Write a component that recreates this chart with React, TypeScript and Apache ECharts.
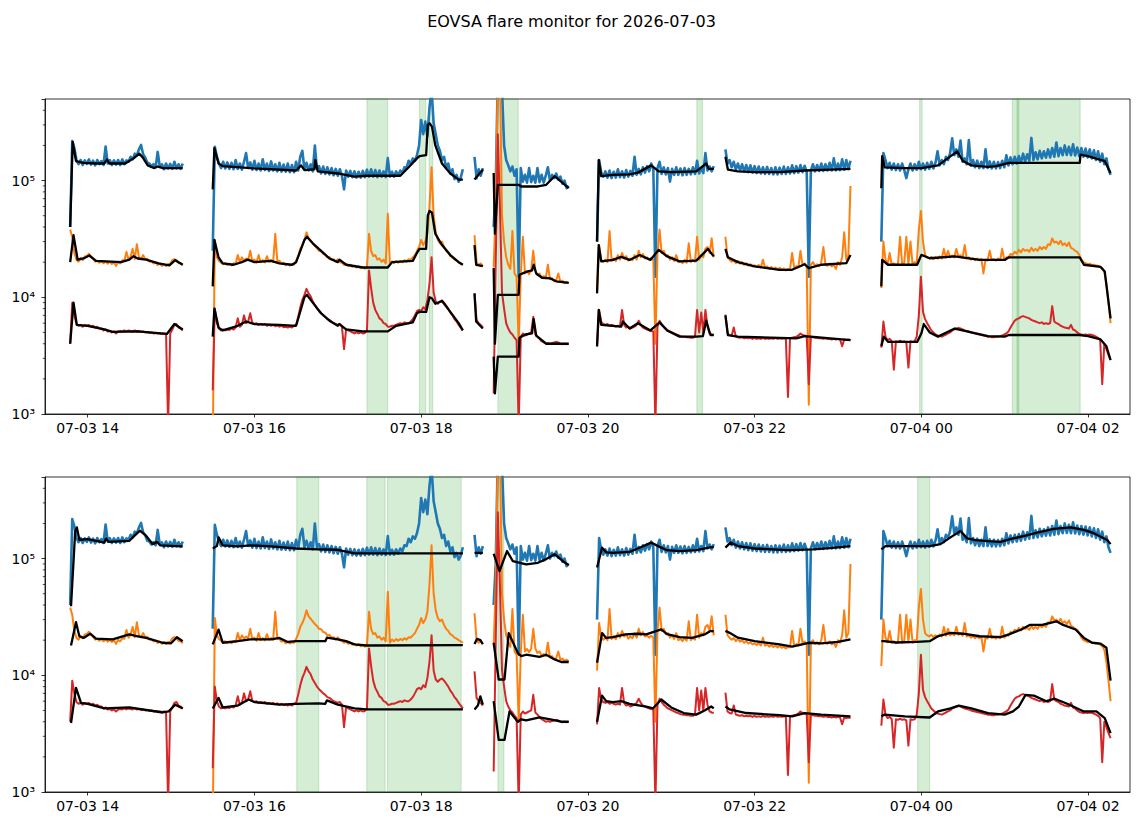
import React, { useEffect, useRef } from "react";
import * as echarts from "echarts";

// ---------- axes ----------
const X_MIN = 13.488;
const X_MAX = 26.503;
const Y_MIN = 1e3;
const Y_MAX = 5e5;
const X_TICKS = [14, 16, 18, 20, 22, 24, 26];
const Y_MINOR = [2e3, 3e3, 4e3, 5e3, 6e3, 7e3, 8e3, 9e3, 2e4, 3e4, 4e4, 5e4, 6e4, 7e4, 8e4, 9e4, 2e5, 3e5, 4e5];

// ---------- raw data (hours since 07-03 00:00) ----------
const SEG_START = [13.79, 15.5, 18.64, 18.87, 20.11, 21.65, 23.52];
const RAW_DT = 0.025; // sampling step (h)

const BLUE = [
  [40e3, 218e3, 190e3, 150e3, 138e3, 150e3, 136e3, 149e3, 139e3, 152e3, 137e3, 148e3, 135e3, 150e3, 138e3, 147e3, 136e3, 196e3, 140e3, 150e3, 136e3, 149e3, 137e3, 150e3, 136e3, 152e3, 138e3, 149e3, 145e3, 160e3, 152e3, 170e3, 165e3, 185e3, 202e3, 168e3, 158e3, 142e3, 140e3, 132e3, 138e3, 130e3, 176e3, 131e3, 138e3, 125e3, 140e3, 127e3, 139e3, 126e3, 145e3, 127e3, 138e3, 126e3, 140e3],
  [25e3, 195e3, 160e3, 140e3, 128e3, 145e3, 127e3, 143e3, 126e3, 142e3, 125e3, 150e3, 126e3, 140e3, 124e3, 145e3, 172e3, 128e3, 143e3, 124e3, 148e3, 123e3, 140e3, 122e3, 152e3, 123e3, 140e3, 121e3, 146e3, 122e3, 138e3, 120e3, 142e3, 119e3, 137e3, 119e3, 140e3, 118e3, 136e3, 118e3, 145e3, 122e3, 160e3, 180e3, 125e3, 142e3, 122e3, 138e3, 120e3, 200e3, 125e3, 133e3, 115e3, 132e3, 114e3, 130e3, 113e3, 128e3, 111e3, 126e3, 110e3, 125e3, 110e3, 84e3, 122e3, 108e3, 121e3, 107e3, 120e3, 106e3, 119e3, 106e3, 121e3, 107e3, 124e3, 108e3, 125e3, 108e3, 123e3, 107e3, 122e3, 108e3, 120e3, 107e3, 156e3, 108e3, 119e3, 108e3, 120e3, 110e3, 122e3, 116e3, 130e3, 128e3, 148e3, 138e3, 155e3, 148e3, 165e3, 200e3, 330e3, 250e3, 320e3, 240e3, 420e3, 600e3, 310e3, 250e3, 200e3, 180e3, 150e3, 160e3, 128e3, 140e3, 115e3, 125e3, 103e3, 112e3, 98e3, 106e3, 125e3],
  [160e3, 105e3, 125e3, 110e3, 128e3],
  [40e3, 90e3, 800e3, 900e3, 600e3, 200e3, 150e3, 135e3, 120e3, 132e3, 110e3, 125e3, 15e3, 128e3, 98e3, 112e3, 96e3, 128e3, 97e3, 110e3, 96e3, 128e3, 97e3, 112e3, 96e3, 110e3, 130e3, 100e3, 112e3, 105e3, 115e3, 102e3, 108e3, 94e3, 100e3, 86e3, 90e3],
  [30e3, 150e3, 118e3, 108e3, 120e3, 106e3, 122e3, 105e3, 119e3, 106e3, 125e3, 107e3, 120e3, 106e3, 123e3, 108e3, 121e3, 110e3, 160e3, 112e3, 126e3, 113e3, 130e3, 117e3, 133e3, 120e3, 140e3, 125e3, 15e3, 128e3, 145e3, 114e3, 130e3, 113e3, 128e3, 98e3, 126e3, 112e3, 130e3, 112e3, 127e3, 111e3, 128e3, 112e3, 126e3, 113e3, 130e3, 114e3, 148e3, 115e3, 128e3, 116e3, 172e3, 122e3, 132e3, 120e3, 133e3],
  [185e3, 140e3, 150e3, 130e3, 145e3, 124e3, 140e3, 122e3, 138e3, 120e3, 136e3, 118e3, 135e3, 117e3, 133e3, 116e3, 132e3, 115e3, 130e3, 114e3, 131e3, 114e3, 128e3, 113e3, 130e3, 113e3, 129e3, 114e3, 132e3, 114e3, 130e3, 115e3, 135e3, 116e3, 133e3, 117e3, 136e3, 118e3, 134e3, 119e3, 15e3, 122e3, 138e3, 120e3, 136e3, 121e3, 140e3, 121e3, 138e3, 122e3, 142e3, 122e3, 155e3, 122e3, 140e3, 123e3, 152e3, 124e3, 150e3, 125e3, 148e3],
  [30e3, 172e3, 150e3, 128e3, 142e3, 124e3, 140e3, 123e3, 138e3, 122e3, 140e3, 123e3, 105e3, 125e3, 140e3, 122e3, 138e3, 124e3, 145e3, 125e3, 140e3, 124e3, 142e3, 126e3, 145e3, 127e3, 143e3, 178e3, 135e3, 150e3, 138e3, 160e3, 150e3, 172e3, 230e3, 165e3, 185e3, 160e3, 220e3, 145e3, 155e3, 138e3, 222e3, 135e3, 150e3, 130e3, 148e3, 128e3, 145e3, 128e3, 185e3, 128e3, 146e3, 127e3, 145e3, 127e3, 144e3, 128e3, 148e3, 130e3, 165e3, 135e3, 158e3, 138e3, 160e3, 140e3, 162e3, 142e3, 170e3, 145e3, 168e3, 148e3, 232e3, 150e3, 175e3, 152e3, 180e3, 155e3, 178e3, 157e3, 185e3, 158e3, 190e3, 160e3, 212e3, 162e3, 190e3, 165e3, 200e3, 166e3, 195e3, 165e3, 205e3, 164e3, 192e3, 162e3, 190e3, 160e3, 188e3, 158e3, 185e3, 155e3, 182e3, 150e3, 178e3, 145e3, 170e3, 138e3, 155e3, 125e3, 112e3],
];

const ORANGE = [
  [38e3, 33e3, 24e3, 21e3, 20.2e3, 21.8e3, 20.8e3, 22.4e3, 22.6e3, 23.6e3, 22.2e3, 21.4e3, 20.2e3, 20.6e3, 19.8e3, 20.4e3, 19.6e3, 20.3e3, 19.4e3, 20.2e3, 19.3e3, 20e3, 18.6e3, 20.2e3, 19.5e3, 20.8e3, 20.6e3, 24.5e3, 21e3, 22.5e3, 26e3, 21.2e3, 28.5e3, 22e3, 21.2e3, 23e3, 21.2e3, 21.4e3, 20.2e3, 20.4e3, 19.5e3, 19.9e3, 18.9e3, 19.4e3, 18.6e3, 19.2e3, 18.5e3, 19.3e3, 19.3e3, 20.8e3, 21.2e3, 20.8e3, 19.7e3, 19.6e3, 18.8e3],
  [0.5e3, 31e3, 22e3, 20.5e3, 19.8e3, 19.2e3, 19.6e3, 18.9e3, 19.4e3, 18.8e3, 19.6e3, 19.2e3, 23e3, 20e3, 22e3, 20.6e3, 21.5e3, 20.8e3, 25e3, 20.4e3, 21e3, 19.8e3, 23e3, 20e3, 20.8e3, 19.9e3, 22.5e3, 20.2e3, 20.9e3, 20.1e3, 35e3, 20.4e3, 20.6e3, 19.4e3, 19.8e3, 18.8e3, 19.3e3, 18.7e3, 19.2e3, 19e3, 20.5e3, 22.5e3, 26e3, 28e3, 31e3, 36e3, 32e3, 30.5e3, 29e3, 27.5e3, 26.5e3, 25e3, 24.8e3, 23.5e3, 23.2e3, 22e3, 22.2e3, 21e3, 21.2e3, 20.2e3, 21.2e3, 20e3, 19.8e3, 19e3, 19.4e3, 18.6e3, 19e3, 18.3e3, 18.6e3, 18e3, 18.4e3, 17.7e3, 18.1e3, 17.6e3, 18e3, 35e3, 25e3, 22.5e3, 23e3, 21e3, 21.5e3, 20.2e3, 21e3, 19.5e3, 52e3, 19e3, 20.2e3, 19.6e3, 20.4e3, 19.8e3, 20.5e3, 20e3, 20.8e3, 20.2e3, 21.2e3, 21e3, 22e3, 23e3, 25e3, 27e3, 31e3, 28e3, 30e3, 35e3, 60e3, 130e3, 50e3, 36e3, 31e3, 29e3, 30e3, 27e3, 25e3, 24e3, 22.5e3, 22e3, 21e3, 20.6e3, 20e3, 19.5e3, 19e3],
  [34e3, 20e3, 19e3, 19.5e3, 18.5e3],
  [18e3, 60e3, 800e3, 900e3, 50e3, 30e3, 22e3, 19e3, 17.5e3, 37e3, 16e3, 15e3, 4e3, 15.5e3, 33e3, 16e3, 16.8e3, 15.8e3, 17e3, 25e3, 17e3, 15.5e3, 16e3, 14.8e3, 15.2e3, 14.6e3, 19e3, 14.3e3, 14.6e3, 13.7e3, 14e3, 16e3, 13.6e3, 13.9e3, 13.2e3, 13.6e3, 13.2e3],
  [11e3, 28e3, 21e3, 20.2e3, 21e3, 20e3, 37e3, 20.5e3, 21.5e3, 20.4e3, 23e3, 21e3, 24e3, 21.5e3, 22.5e3, 20.6e3, 21.5e3, 20.8e3, 23e3, 21e3, 25e3, 22e3, 23.5e3, 21.5e3, 22e3, 21e3, 21.8e3, 21e3, 4e3, 24e3, 38e3, 24e3, 25e3, 22.5e3, 23e3, 21e3, 22e3, 20.5e3, 23e3, 20e3, 20.5e3, 19.6e3, 21e3, 19.8e3, 29e3, 20e3, 21e3, 20.2e3, 33e3, 21e3, 23e3, 22e3, 26e3, 27e3, 24e3, 32e3, 22e3],
  [33e3, 22e3, 21e3, 20.2e3, 20.8e3, 19.6e3, 20.5e3, 19.4e3, 20e3, 19e3, 19.6e3, 18.7e3, 19.2e3, 18.4e3, 18.8e3, 18.2e3, 18.9e3, 18e3, 21e3, 17.9e3, 18.4e3, 17.6e3, 18.2e3, 17.5e3, 18e3, 17.3e3, 17.9e3, 17.2e3, 17.6e3, 17e3, 17.5e3, 17.4e3, 24e3, 17.8e3, 18.5e3, 18e3, 25e3, 18.8e3, 19.5e3, 18.5e3, 1.2e3, 19e3, 20e3, 18.6e3, 19.2e3, 18.4e3, 20e3, 27e3, 19e3, 18.6e3, 19.5e3, 18.4e3, 19e3, 17.5e3, 20e3, 19e3, 22e3, 36e3, 21e3, 23e3, 90e3],
  [12e3, 30e3, 21e3, 19.2e3, 24e3, 19e3, 19.6e3, 18.8e3, 19.4e3, 33e3, 19e3, 19.8e3, 33e3, 19.2e3, 30e3, 19e3, 20e3, 19.4e3, 38e3, 55e3, 30e3, 23e3, 22e3, 21.5e3, 22.2e3, 21.2e3, 22e3, 21.4e3, 22.4e3, 21.5e3, 26e3, 21.8e3, 25e3, 22e3, 22.8e3, 22e3, 26e3, 22.2e3, 23e3, 21.8e3, 28e3, 21.5e3, 22e3, 21e3, 21.6e3, 20.8e3, 21.5e3, 20.8e3, 21.4e3, 16e3, 21e3, 20.6e3, 25e3, 20.8e3, 21.2e3, 20.6e3, 21.5e3, 20.8e3, 26e3, 21e3, 22e3, 21.8e3, 23.5e3, 23e3, 24.5e3, 23.8e3, 25.5e3, 24.2e3, 26e3, 25e3, 25.5e3, 24.5e3, 26.5e3, 25e3, 26e3, 25e3, 27e3, 25.8e3, 27e3, 26e3, 28.5e3, 28e3, 32e3, 29.5e3, 30e3, 28.5e3, 30.5e3, 28e3, 29e3, 27.5e3, 29.5e3, 26.5e3, 26e3, 25e3, 24.5e3, 23e3, 21e3, 20e3, 19.6e3, 19.2e3, 19.4e3, 18.9e3, 19e3, 18.7e3, 18.6e3, 18.3e3, 17.8e3, 16.5e3, 13e3, 9e3, 6e3],
];

const RED = [
  [4.0e3, 9.0e3, 7.0e3, 5.9e3, 5.7e3, 5.8e3, 5.6e3, 5.8e3, 5.7e3, 5.8e3, 5.6e3, 5.7e3, 5.5e3, 5.6e3, 5.4e3, 5.4e3, 5.2e3, 5.3e3, 5.1e3, 5.15e3, 5.0e3, 5.1e3, 4.9e3, 5.1e3, 5.15e3, 5.1e3, 5.2e3, 5.1e3, 5.2e3, 5.15e3, 5.1e3, 5.2e3, 5.1e3, 5.15e3, 5.05e3, 5.1e3, 5.0e3, 5.05e3, 4.95e3, 5.0e3, 4.9e3, 4.95e3, 4.9e3, 4.9e3, 4.85e3, 4.9e3, 4.85e3, 0.8e3, 4.9e3, 5.3e3, 5.8e3, 5.9e3, 5.5e3, 5.4e3, 5.2e3],
  [1.6e3, 8.0e3, 6.0e3, 5.4e3, 5.2e3, 5.3e3, 5.2e3, 5.3e3, 5.25e3, 5.4e3, 5.3e3, 5.5e3, 6.6e3, 5.6e3, 5.8e3, 7.0e3, 6.0e3, 6.2e3, 7.3e3, 6.0e3, 5.9e3, 6.0e3, 5.8e3, 5.9e3, 5.8e3, 5.9e3, 5.7e3, 5.8e3, 5.7e3, 5.8e3, 5.65e3, 5.75e3, 5.6e3, 5.7e3, 5.55e3, 5.6e3, 5.5e3, 5.6e3, 5.5e3, 5.7e3, 5.8e3, 6.8e3, 8.2e3, 9.5e3, 10.5e3, 11.8e3, 10.8e3, 10.2e3, 9.2e3, 8.6e3, 8.0e3, 7.6e3, 7.3e3, 7.0e3, 6.8e3, 6.5e3, 6.4e3, 6.2e3, 6.0e3, 5.9e3, 5.8e3, 5.9e3, 5.6e3, 3.6e3, 5.3e3, 5.2e3, 5.1e3, 5.0e3, 4.9e3, 5.0e3, 4.9e3, 5.0e3, 4.9e3, 4.95e3, 5.2e3, 17e3, 12e3, 9.0e3, 7.8e3, 7.2e3, 6.6e3, 6.4e3, 6.0e3, 5.9e3, 5.6e3, 5.6e3, 5.7e3, 5.7e3, 5.8e3, 5.9e3, 6.0e3, 5.9e3, 6.1e3, 6.0e3, 6.0e3, 6.2e3, 6.5e3, 7.0e3, 7.6e3, 7.8e3, 7.6e3, 8.2e3, 7.9e3, 9.5e3, 13e3, 22e3, 11e3, 9.2e3, 8.8e3, 9.2e3, 9.4e3, 9.0e3, 8.5e3, 8.0e3, 7.4e3, 7.0e3, 6.5e3, 6.2e3, 5.8e3, 5.5e3, 5.2e3],
  [10.8e3, 6.4e3, 6.0e3, 5.8e3, 5.5e3],
  [1.5e3, 20e3, 250e3, 60e3, 11e3, 8.0e3, 6.0e3, 5.4e3, 5.0e3, 4.8e3, 4.5e3, 4.3e3, 0.8e3, 4.6e3, 4.9e3, 4.7e3, 4.8e3, 4.9e3, 5.0e3, 6.8e3, 4.8e3, 4.6e3, 4.4e3, 4.2e3, 4.1e3, 4.0e3, 4.05e3, 4.0e3, 4.05e3, 4.1e3, 4.15e3, 4.1e3, 4.0e3, 3.95e3, 4.0e3, 3.95e3, 4.0e3],
  [3.8e3, 7.8e3, 6.2e3, 5.9e3, 5.8e3, 5.9e3, 5.7e3, 5.8e3, 5.7e3, 5.6e3, 5.7e3, 5.6e3, 7.8e3, 5.8e3, 5.5e3, 5.6e3, 5.4e3, 5.5e3, 5.6e3, 5.8e3, 6.3e3, 5.8e3, 5.5e3, 5.4e3, 5.3e3, 5.2e3, 5.15e3, 5.1e3, 0.8e3, 5.6e3, 6.3e3, 5.9e3, 5.6e3, 5.4e3, 5.2e3, 5.1e3, 5.0e3, 4.9e3, 4.8e3, 4.75e3, 4.65e3, 4.6e3, 4.6e3, 4.55e3, 4.55e3, 4.5e3, 4.5e3, 4.6e3, 7.8e3, 5.0e3, 7.4e3, 5.0e3, 7.8e3, 5.6e3, 4.9e3, 4.8e3, 4.75e3],
  [7.1e3, 4.9e3, 4.75e3, 4.7e3, 5.5e3, 4.6e3, 4.55e3, 4.5e3, 4.55e3, 4.45e3, 4.5e3, 4.45e3, 4.5e3, 4.4e3, 4.5e3, 4.4e3, 4.45e3, 4.4e3, 4.5e3, 4.4e3, 4.45e3, 4.4e3, 4.45e3, 4.4e3, 4.5e3, 4.4e3, 4.45e3, 4.4e3, 4.45e3, 4.4e3, 1.4e3, 4.45e3, 4.5e3, 4.55e3, 4.6e3, 4.7e3, 4.9e3, 4.75e3, 4.7e3, 4.65e3, 1.8e3, 4.6e3, 4.55e3, 4.5e3, 4.5e3, 4.45e3, 4.45e3, 4.4e3, 4.45e3, 4.4e3, 4.4e3, 4.35e3, 4.4e3, 4.35e3, 4.4e3, 4.35e3, 3.8e3, 4.35e3, 4.3e3, 4.35e3, 4.3e3],
  [3.7e3, 6.2e3, 4.6e3, 4.3e3, 4.4e3, 4.2e3, 2.4e3, 4.2e3, 4.15e3, 4.25e3, 4.15e3, 4.2e3, 4.1e3, 2.5e3, 4.2e3, 4.15e3, 4.2e3, 4.6e3, 7.0e3, 15e3, 7.5e3, 6.5e3, 6.0e3, 5.6e3, 5.2e3, 5.0e3, 4.8e3, 4.7e3, 4.65e3, 4.6e3, 4.7e3, 4.8e3, 4.9e3, 5.0e3, 5.2e3, 5.3e3, 5.4e3, 5.45e3, 5.4e3, 5.3e3, 5.2e3, 5.15e3, 5.1e3, 5.0e3, 4.95e3, 4.9e3, 4.85e3, 4.8e3, 4.75e3, 4.7e3, 4.65e3, 4.6e3, 4.6e3, 4.55e3, 4.55e3, 4.6e3, 4.6e3, 4.65e3, 4.7e3, 4.8e3, 4.9e3, 5.1e3, 5.5e3, 5.9e3, 6.3e3, 6.5e3, 6.6e3, 6.8e3, 6.9e3, 6.8e3, 6.7e3, 6.6e3, 6.4e3, 6.3e3, 6.2e3, 6.1e3, 6.0e3, 6.1e3, 5.9e3, 6.0e3, 5.9e3, 6.0e3, 8.4e3, 6.2e3, 6.0e3, 5.9e3, 5.7e3, 5.6e3, 5.5e3, 5.45e3, 5.4e3, 5.8e3, 5.3e3, 5.2e3, 5.0e3, 4.85e3, 4.8e3, 4.75e3, 4.8e3, 4.75e3, 4.8e3, 4.75e3, 4.7e3, 4.6e3, 4.5e3, 4.3e3, 1.8e3, 4.0e3, 3.6e3, 3.2e3, 2.9e3],
];

// ---------- background (black) curves, [hour, value] per segment ----------
const TOP_BG_BLUE = [
  [[13.79, 40e3], [13.82, 215e3], [13.86, 147e3], [13.95, 142e3], [14.1, 140e3], [14.2, 140e3], [14.23, 152e3], [14.26, 140e3], [14.45, 140e3], [14.55, 155e3], [14.62, 170e3], [14.66, 158e3], [14.72, 135e3], [14.8, 128e3], [14.84, 132e3], [14.9, 128e3], [15.14, 128e3]],
  [[15.5, 84e3], [15.52, 190e3], [15.57, 140e3], [15.62, 133e3], [16.0, 127e3], [16.5, 122e3], [16.56, 135e3], [16.6, 123e3], [16.72, 125e3], [16.73, 150e3], [16.76, 120e3], [17.0, 115e3], [17.2, 108e3], [17.35, 110e3], [17.6, 110e3], [17.75, 110e3], [17.85, 130e3], [17.95, 155e3], [17.98, 162e3], [18.06, 165e3], [18.08, 300e3], [18.1, 310e3], [18.13, 290e3], [18.17, 200e3], [18.25, 140e3], [18.35, 115e3], [18.45, 102e3], [18.5, 102e3]],
  [[18.64, 102e3], [18.7, 115e3], [18.74, 124e3]],
  [[18.87, 116e3], [18.885, 35e3], [18.92, 92e3], [19.17, 92e3], [19.2, 89e3], [19.4, 89e3], [19.5, 92e3], [19.6, 109e3], [19.7, 95e3], [19.77, 86e3]],
  [[20.11, 30e3], [20.13, 150e3], [20.16, 109e3], [20.3, 112e3], [20.5, 113e3], [20.6, 117e3], [20.76, 135e3], [20.85, 120e3], [21.0, 118e3], [21.3, 120e3], [21.42, 140e3], [21.45, 126e3], [21.51, 126e3]],
  [[21.65, 160e3], [21.68, 124e3], [21.8, 120e3], [22.0, 118e3], [22.3, 118e3], [22.6, 122e3], [22.9, 124e3], [23.15, 126e3]],
  [[23.52, 86e3], [23.53, 162e3], [23.56, 130e3], [23.8, 128e3], [24.0, 128e3], [24.2, 135e3], [24.3, 152e3], [24.43, 178e3], [24.5, 147e3], [24.6, 135e3], [24.8, 131e3], [24.9, 133e3], [25.05, 142e3], [25.9, 142e3], [25.91, 167e3], [26.0, 162e3], [26.1, 154e3], [26.2, 147e3], [26.27, 116e3]],
];

const TOP_BG_ORANGE = [
  [[13.79, 20e3], [13.83, 34e3], [13.88, 21e3], [13.95, 21.5e3], [14.02, 22.8e3], [14.1, 20.5e3], [14.4, 20e3], [14.5, 21e3], [14.55, 22.5e3], [14.6, 21.5e3], [14.7, 21e3], [14.85, 19.5e3], [14.98, 18.8e3], [15.05, 20.8e3], [15.14, 19e3]],
  [[15.5, 12.4e3], [15.52, 31e3], [15.57, 22e3], [15.62, 19.5e3], [15.75, 19e3], [15.85, 20e3], [15.92, 21e3], [16.0, 20e3], [16.2, 20.5e3], [16.3, 19.5e3], [16.45, 19e3], [16.5, 20e3], [16.56, 26e3], [16.6, 31e3], [16.63, 33e3], [16.7, 29e3], [16.8, 25e3], [16.9, 21.5e3], [17.0, 20e3], [17.02, 21e3], [17.1, 19e3], [17.3, 18e3], [17.6, 18e3], [17.65, 20e3], [17.9, 20.5e3], [17.95, 24e3], [17.98, 26e3], [18.06, 26e3], [18.08, 50e3], [18.1, 55e3], [18.13, 53e3], [18.17, 35e3], [18.25, 28e3], [18.35, 23e3], [18.45, 20e3], [18.5, 19e3]],
  [[18.64, 28e3], [18.66, 19e3], [18.74, 18.5e3]],
  [[18.87, 17.8e3], [18.885, 4e3], [18.92, 10.5e3], [19.17, 10.5e3], [19.18, 15.6e3], [19.26, 16.5e3], [19.33, 17e3], [19.35, 19e3], [19.38, 16e3], [19.45, 14.7e3], [19.55, 14.5e3], [19.62, 13.7e3], [19.77, 13.3e3]],
  [[20.11, 10.8e3], [20.13, 28e3], [20.16, 20.3e3], [20.3, 20.9e3], [20.4, 22.2e3], [20.5, 20.9e3], [20.62, 23e3], [20.75, 20.9e3], [20.85, 25.5e3], [20.95, 22.4e3], [21.1, 20.3e3], [21.3, 20.6e3], [21.44, 26e3], [21.51, 22.4e3]],
  [[21.65, 26e3], [21.68, 22e3], [21.8, 20e3], [22.0, 18.4e3], [22.3, 17.2e3], [22.45, 17.2e3], [22.6, 19.2e3], [22.65, 17.8e3], [22.8, 19e3], [23.1, 19.6e3], [23.15, 23e3]],
  [[23.52, 12.4e3], [23.53, 20.9e3], [23.6, 19e3], [23.95, 19e3], [24.0, 23.1e3], [24.1, 21.6e3], [24.4, 22.4e3], [24.7, 20.9e3], [25.0, 20.9e3], [25.05, 22e3], [25.9, 22e3], [25.95, 19e3], [26.15, 18.2e3], [26.2, 16.6e3], [26.27, 6.6e3]],
];

const TOP_BG_RED = [
  [[13.79, 4.0e3], [13.83, 9.0e3], [13.87, 5.8e3], [14.0, 5.7e3], [14.2, 5.3e3], [14.3, 5.05e3], [14.6, 5.1e3], [14.95, 4.85e3], [15.04, 5.9e3], [15.14, 5.3e3]],
  [[15.5, 4.6e3], [15.52, 8.0e3], [15.57, 5.5e3], [15.62, 5.2e3], [15.8, 5.7e3], [15.9, 6.2e3], [16.0, 5.9e3], [16.3, 5.8e3], [16.5, 5.7e3], [16.6, 10e3], [16.63, 10.5e3], [16.7, 9.0e3], [16.8, 7.3e3], [16.9, 6.3e3], [17.0, 5.7e3], [17.02, 5.9e3], [17.1, 5.3e3], [17.3, 5.1e3], [17.6, 5.1e3], [17.7, 5.7e3], [17.9, 6.1e3], [17.95, 7.3e3], [17.98, 7.5e3], [18.06, 7.5e3], [18.1, 10e3], [18.13, 9.8e3], [18.17, 8.8e3], [18.25, 9.3e3], [18.35, 7.5e3], [18.45, 6.0e3], [18.5, 5.2e3]],
  [[18.64, 10.8e3], [18.66, 6.2e3], [18.74, 5.4e3]],
  [[18.87, 3.1e3], [18.885, 1.5e3], [18.92, 3.1e3], [19.17, 3.1e3], [19.18, 4.5e3], [19.25, 4.8e3], [19.33, 4.9e3], [19.35, 6.5e3], [19.38, 4.7e3], [19.5, 4.0e3], [19.77, 4.0e3]],
  [[20.11, 3.8e3], [20.13, 7.8e3], [20.16, 5.8e3], [20.4, 5.6e3], [20.42, 6.2e3], [20.5, 5.4e3], [20.6, 6.0e3], [20.75, 5.2e3], [20.86, 6.1e3], [20.95, 5.2e3], [21.1, 4.6e3], [21.3, 4.6e3], [21.38, 4.65e3], [21.42, 6.3e3], [21.47, 4.75e3], [21.51, 4.75e3]],
  [[21.65, 7.0e3], [21.68, 4.75e3], [21.8, 4.6e3], [22.5, 4.45e3], [22.6, 4.65e3], [23.15, 4.3e3]],
  [[23.52, 3.8e3], [23.55, 4.6e3], [23.6, 4.15e3], [23.95, 4.15e3], [24.0, 4.9e3], [24.03, 5.9e3], [24.1, 5.0e3], [24.2, 4.6e3], [24.4, 5.4e3], [24.6, 5.0e3], [24.8, 4.65e3], [25.0, 4.6e3], [25.05, 4.75e3], [25.9, 4.75e3], [26.0, 4.65e3], [26.15, 4.35e3], [26.22, 3.8e3], [26.27, 2.9e3]],
];

const BOT_BG_BLUE = [
  [[13.8, 39e3], [13.85, 170e3], [13.87, 185e3], [13.9, 145e3], [14.0, 147e3], [14.2, 137e3], [14.22, 149e3], [14.25, 139e3], [14.5, 142e3], [14.6, 167e3], [14.63, 173e3], [14.7, 157e3], [14.78, 133e3], [14.83, 139e3], [14.87, 130e3], [15.14, 127e3]],
  [[15.5, 122e3], [15.55, 128e3], [15.57, 152e3], [15.62, 130e3], [15.8, 127e3], [15.95, 130e3], [16.2, 127e3], [16.5, 122e3], [16.77, 120e3], [17.0, 119e3], [17.2, 111e3], [17.35, 111e3], [18.5, 111e3]],
  [[18.64, 112e3], [18.74, 112e3]],
  [[18.87, 110e3], [18.94, 78e3], [19.03, 116e3], [19.1, 95e3], [19.26, 89e3], [19.4, 92e3], [19.5, 99e3], [19.6, 109e3], [19.7, 95e3], [19.77, 88e3]],
  [[20.11, 84e3], [20.17, 124e3], [20.22, 113e3], [20.3, 112e3], [20.5, 114e3], [20.6, 122e3], [20.76, 137e3], [20.86, 126e3], [20.95, 118e3], [21.1, 116e3], [21.3, 118e3], [21.45, 124e3], [21.51, 126e3]],
  [[21.65, 124e3], [21.71, 137e3], [21.8, 128e3], [22.0, 122e3], [22.4, 118e3], [22.7, 120e3], [22.9, 123e3], [23.15, 128e3]],
  [[23.52, 120e3], [23.57, 128e3], [23.9, 128e3], [24.1, 128e3], [24.23, 133e3], [24.35, 152e3], [24.47, 172e3], [24.55, 149e3], [24.65, 144e3], [24.8, 141e3], [24.95, 139e3], [25.1, 149e3], [25.25, 157e3], [25.4, 168e3], [25.59, 180e3], [25.79, 185e3], [25.95, 176e3], [26.05, 167e3], [26.15, 154e3], [26.23, 144e3], [26.27, 133e3]],
];

const BOT_BG_ORANGE = [
  [[13.8, 18e3], [13.86, 28.5e3], [13.9, 21.6e3], [13.95, 20.9e3], [14.03, 22.7e3], [14.1, 20.6e3], [14.3, 20.3e3], [14.5, 22.4e3], [14.6, 21.6e3], [14.7, 20.9e3], [14.9, 19e3], [15.0, 18.8e3], [15.07, 21.2e3], [15.14, 19.6e3]],
  [[15.5, 18.4e3], [15.57, 24.6e3], [15.62, 19e3], [15.8, 19.6e3], [15.95, 20.3e3], [16.2, 20.3e3], [16.3, 20.9e3], [16.4, 19.3e3], [16.5, 19.6e3], [16.77, 19.6e3], [16.85, 19.6e3], [16.87, 21e3], [17.0, 20.3e3], [17.1, 19.6e3], [17.2, 18.4e3], [17.35, 18e3], [18.5, 18.1e3]],
  [[18.64, 18.5e3], [18.67, 20.5e3], [18.71, 20e3], [18.74, 18.5e3]],
  [[18.87, 19e3], [18.93, 9.2e3], [19.0, 9.2e3], [19.05, 23e3], [19.16, 15.5e3], [19.2, 14.6e3], [19.26, 15e3], [19.42, 14.4e3], [19.5, 15e3], [19.58, 13.9e3], [19.68, 13e3], [19.77, 13e3]],
  [[20.11, 12.8e3], [20.17, 23e3], [20.22, 20.9e3], [20.3, 21.2e3], [20.45, 22.4e3], [20.6, 22.7e3], [20.7, 22.4e3], [20.88, 24.7e3], [20.95, 22.5e3], [21.1, 21.2e3], [21.25, 20.9e3], [21.4, 22.4e3], [21.47, 24e3], [21.51, 23.8e3]],
  [[21.65, 24e3], [21.7, 23.1e3], [21.8, 21e3], [22.0, 19.6e3], [22.3, 18.4e3], [22.45, 17.6e3], [22.65, 19e3], [22.8, 18.8e3], [23.0, 19.3e3], [23.15, 20.3e3]],
  [[23.52, 19.6e3], [23.55, 19.6e3], [23.7, 19.1e3], [23.95, 19.3e3], [24.1, 19.6e3], [24.2, 21.6e3], [24.35, 23.1e3], [24.5, 22.7e3], [24.7, 21.6e3], [24.95, 21.2e3], [25.05, 22.4e3], [25.2, 24.7e3], [25.3, 27e3], [25.45, 27e3], [25.62, 29e3], [25.7, 27e3], [25.85, 24.7e3], [25.95, 20.9e3], [26.05, 19e3], [26.15, 18.7e3], [26.22, 17.2e3], [26.27, 9.0e3]],
];

const BOT_BG_RED = [
  [[13.8, 3.9e3], [13.86, 7.8e3], [13.92, 5.8e3], [14.0, 5.7e3], [14.2, 5.2e3], [14.5, 5.3e3], [14.9, 4.8e3], [14.97, 4.9e3], [15.05, 5.6e3], [15.14, 5.2e3]],
  [[15.5, 5.2e3], [15.57, 6.4e3], [15.62, 5.3e3], [15.8, 5.5e3], [15.93, 6.2e3], [16.0, 5.9e3], [16.3, 5.6e3], [16.5, 5.7e3], [16.77, 5.75e3], [16.85, 5.7e3], [16.87, 6.1e3], [17.0, 5.6e3], [17.2, 5.2e3], [17.35, 5.1e3], [18.5, 5.1e3]],
  [[18.64, 5.1e3], [18.68, 5.5e3], [18.71, 6.6e3], [18.74, 5.6e3]],
  [[18.87, 6.0e3], [18.93, 2.8e3], [19.0, 2.8e3], [19.06, 4.9e3], [19.16, 4.0e3], [19.2, 4.2e3], [19.26, 4.1e3], [19.42, 4.35e3], [19.55, 4.2e3], [19.68, 4.0e3], [19.77, 4.0e3]],
  [[20.11, 4.0e3], [20.17, 6.7e3], [20.22, 6.0e3], [20.3, 5.9e3], [20.4, 6.0e3], [20.5, 5.7e3], [20.7, 5.4e3], [20.78, 5.2e3], [20.88, 6.2e3], [21.0, 5.3e3], [21.15, 4.75e3], [21.3, 4.6e3], [21.4, 5.0e3], [21.48, 5.4e3], [21.51, 5.2e3]],
  [[21.65, 5.4e3], [21.7, 5.1e3], [21.9, 4.75e3], [22.3, 4.55e3], [22.45, 4.45e3], [22.6, 4.75e3], [22.8, 4.6e3], [23.15, 4.45e3]],
  [[23.52, 4.45e3], [23.56, 4.6e3], [23.8, 4.45e3], [24.1, 4.35e3], [24.2, 4.9e3], [24.35, 5.2e3], [24.45, 5.5e3], [24.6, 5.2e3], [24.8, 4.75e3], [25.0, 4.6e3], [25.1, 4.9e3], [25.17, 5.4e3], [25.25, 6.8e3], [25.35, 6.7e3], [25.5, 6.0e3], [25.6, 6.3e3], [25.75, 5.7e3], [25.95, 4.9e3], [26.1, 4.9e3], [26.2, 4.3e3], [26.27, 3.2e3]],
];

// ---------- shaded flare intervals [start, end] hours ----------
const TOP_SPANS = [[17.35, 17.6], [17.98, 18.056], [18.096, 18.14], [18.921, 19.165], [21.307, 21.374], [23.98, 24.01], [25.09, 25.17], [25.147, 25.905]];
const BOT_SPANS = [[16.508, 16.772], [17.348, 17.568], [17.596, 18.48], [18.921, 18.993], [23.956, 24.1]];

const C_BLUE = "#1f77b4";
const C_ORANGE = "#ff7f0e";
const C_RED = "#d62728";
const FONT = "DejaVu Sans";
const SUP: Record<number, string> = { 3: "\u00b3", 4: "\u2074", 5: "\u2075" };

function rawData(segs: number[][], dt: number) {
  const out: any[] = [];
  segs.forEach((vals, s) => {
    const t0 = SEG_START[s];
    vals.forEach((v, i) => out.push([+(t0 + i * dt).toFixed(4), v]));
    out.push([t0 + vals.length * dt, null]);
  });
  return out;
}

function pairData(segs: number[][][]) {
  const out: any[] = [];
  segs.forEach((seg) => {
    seg.forEach((p) => out.push(p));
    out.push([seg[seg.length - 1][0] + 0.01, null]);
  });
  return out;
}

function lineSeries(idx: number, data: any[], color: string, width: number, z: number) {
  return {
    type: "line",
    xAxisIndex: idx,
    yAxisIndex: idx,
    data,
    showSymbol: false,
    symbol: "none",
    connectNulls: false,
    lineStyle: { color, width, join: "round" },
    itemStyle: { color },
    z,
    silent: true,
    animation: false,
  };
}

function spanSeries(idx: number, spans: number[][]) {
  return {
    type: "custom",
    xAxisIndex: idx,
    yAxisIndex: idx,
    data: spans,
    silent: true,
    z: 1,
    renderItem: (_p: any, api: any) => {
      const a = api.coord([api.value(0), Y_MAX]);
      const b = api.coord([api.value(1), Y_MIN]);
      return {
        type: "rect",
        shape: { x: a[0], y: a[1], width: b[0] - a[0], height: b[1] - a[1] },
        style: { fill: "rgba(44,160,44,0.2)", stroke: "rgba(44,160,44,0.22)", lineWidth: 1 },
      };
    },
  };
}

function minorTickSeries(idx: number) {
  return {
    type: "custom",
    xAxisIndex: idx,
    yAxisIndex: idx,
    data: Y_MINOR.map((v) => [X_MIN, v]),
    silent: true,
    clip: false,
    z: 10,
    renderItem: (_p: any, api: any) => {
      const p = api.coord([X_MIN, api.value(1)]);
      return {
        type: "line",
        shape: { x1: p[0] - 2.2, y1: p[1], x2: p[0], y2: p[1] },
        style: { stroke: "#000", lineWidth: 0.7 },
      };
    },
  };
}

function xLabel(v: number) {
  const h = Math.round(v);
  return h < 24 ? `07-03 ${h}` : `07-04 ${String(h - 24).padStart(2, "0")}`;
}

function yLabel(v: number) {
  const l = Math.log10(v);
  const e = Math.round(l);
  if (Math.abs(l - e) > 1e-6 || !SUP[e]) return "";
  return "10" + SUP[e];
}

function buildOption() {
  const grids = [
    { left: 45, top: 99, width: 1085, height: 315 },
    { left: 45, top: 477, width: 1085, height: 315 },
  ].map((g) => ({ ...g, show: true, borderColor: "#000", borderWidth: 0.8, backgroundColor: "transparent", containLabel: false }));

  const xAxes = [0, 1].map((i) => ({
    type: "value",
    gridIndex: i,
    min: X_MIN,
    max: X_MAX,
    axisLine: { show: true, lineStyle: { color: "#000", width: 0.8 } },
    axisTick: { show: true, customValues: X_TICKS, length: 3.5, lineStyle: { color: "#000", width: 0.8 } },
    axisLabel: { customValues: X_TICKS, formatter: xLabel, color: "#000", fontSize: 14, fontFamily: FONT, margin: 7 },
    splitLine: { show: false },
  }));

  const yAxes = [0, 1].map((i) => ({
    type: "log",
    logBase: 10,
    gridIndex: i,
    min: Y_MIN,
    max: Y_MAX,
    axisLine: { show: true, lineStyle: { color: "#000", width: 0.8 } },
    axisTick: { show: true, length: 3.5, lineStyle: { color: "#000", width: 0.8 } },
    axisLabel: { formatter: yLabel, color: "#000", fontSize: 14, fontFamily: FONT, margin: 10 },
    splitLine: { show: false },
    minorTick: { show: false },
  }));

  const blue = rawData(BLUE, RAW_DT);
  const orange = rawData(ORANGE, RAW_DT);
  const red = rawData(RED, RAW_DT);

  const series: any[] = [];
  const bgs = [
    [TOP_BG_BLUE, TOP_BG_ORANGE, TOP_BG_RED],
    [BOT_BG_BLUE, BOT_BG_ORANGE, BOT_BG_RED],
  ];
  const spans = [TOP_SPANS, BOT_SPANS];
  [0, 1].forEach((i) => {
    series.push(spanSeries(i, spans[i]));
    series.push(lineSeries(i, blue, C_BLUE, 2.6, 2));
    series.push(lineSeries(i, orange, C_ORANGE, 2.0, 3));
    series.push(lineSeries(i, red, C_RED, 2.0, 4));
    bgs[i].forEach((bg) => series.push(lineSeries(i, pairData(bg), "#000", 2.3, 5)));
    series.push(minorTickSeries(i));
  });

  return {
    animation: false,
    backgroundColor: "#fff",
    title: {
      text: "EOVSA flare monitor for 2026-07-03",
      left: "center",
      top: 8,
      textStyle: { fontFamily: FONT, fontSize: 16, fontWeight: "normal", color: "#000" },
    },
    grid: grids,
    xAxis: xAxes,
    yAxis: yAxes,
    series,
  };
}

export default function App() {
  const ref = useRef<HTMLDivElement>(null);
  useEffect(() => {
    document.body.style.margin = "0";
    const chart = echarts.init(ref.current as HTMLDivElement, undefined, { renderer: "svg" });
    chart.setOption(buildOption() as any);
    return () => chart.dispose();
  }, []);
  return <div ref={ref} style={{ width: 1143, height: 826 }} />;
}
